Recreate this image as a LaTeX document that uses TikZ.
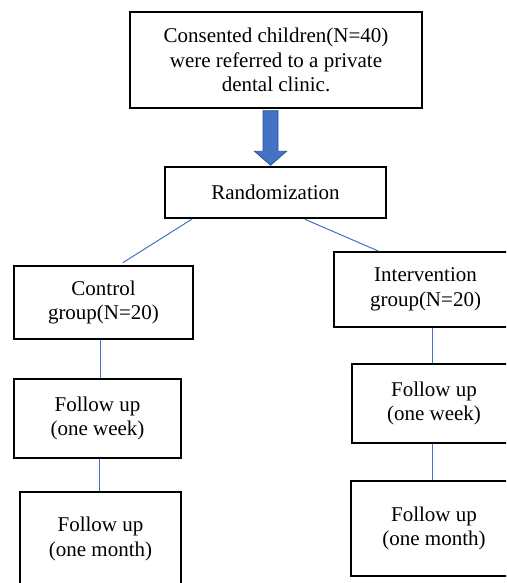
\documentclass[tikz,border=0pt]{standalone}
\usepackage{fontspec}
\setmainfont{Liberation Serif}
\usetikzlibrary{calc}
\definecolor{lineblue}{RGB}{68,114,196}
\definecolor{arrowedge}{RGB}{47,82,143}
\tikzset{
  box/.style={draw=black, line width=2.5pt, fill=white, align=center, inner sep=0pt,
    font=\fontsize{21}{24.5}\selectfont},
  link/.style={draw=lineblue, line width=1pt}
}
\begin{document}
\begin{tikzpicture}[x=1pt,y=-1pt]
\useasboundingbox (0,0) rectangle (506,583);
\clip (0,0) rectangle (506,583);
\fill[white] (0,0) rectangle (506,583);

\node[box, minimum width=292pt, minimum height=96pt] (top) at (276,60)
  {Consented children(N=40)\\were referred to a private\\dental clinic.};
\node[box, minimum width=221pt, minimum height=51pt] (rand) at (275.5,192.5) {Randomization};
\node[box, minimum width=179pt, minimum height=73pt] (ctrl) at (103.5,302.5) {Control\\group(N=20)};
\node[box, minimum width=183pt, minimum height=75pt] (interv) at (425.5,289.5) {Intervention\\group(N=20)};
\node[box, minimum width=167pt, minimum height=79pt] (cweek) at (97.5,418.5) {Follow up\\(one week)};
\node[box, minimum width=161pt, minimum height=94pt] (cmonth) at (100.5,539) {Follow up\\(one month)};
\node[box, minimum width=164pt, minimum height=79pt] (iweek) at (434,403.5) {Follow up\\(one week)};
\node[box, minimum width=166pt, minimum height=95pt] (imonth) at (434,528.5) {Follow up\\(one month)};

% block arrow
\coordinate (aTop) at ($(top.south)+(-5.5,1.5)$);
\coordinate (aTip) at ($(rand.north)+(-5,-0.5)$);
\filldraw[fill=lineblue, draw=arrowedge, line width=0.8pt]
  ($(aTop)+(-7.5,0)$) -- ($(aTop)+(7.5,0)$) -- ($(aTip)+(7.5,-14)$) -- ($(aTip)+(16,-14)$)
  -- (aTip) -- ($(aTip)+(-16,-14)$) -- ($(aTip)+(-7.5,-14)$) -- cycle;

% connectors
\draw[link] ($(rand.south west)+(28,0)$) -- ($(ctrl.north west)+(110,-2)$);
\draw[link] ($(rand.south west)+(141,0)$) -- ($(interv.north west)+(45,0)$);
\draw[link] ($(ctrl.south west)+(87.5,0)$) -- ($(cweek.north west)+(87.5,0)$);
\draw[link] ($(cweek.south west)+(86.5,0)$) -- ($(cmonth.north west)+(80.5,0)$);
\draw[link] ($(interv.south west)+(99.5,0)$) -- ($(iweek.north west)+(81.5,0)$);
\draw[link] ($(iweek.south west)+(81.5,0)$) -- ($(imonth.north west)+(82.5,0)$);
\end{tikzpicture}
\end{document}
